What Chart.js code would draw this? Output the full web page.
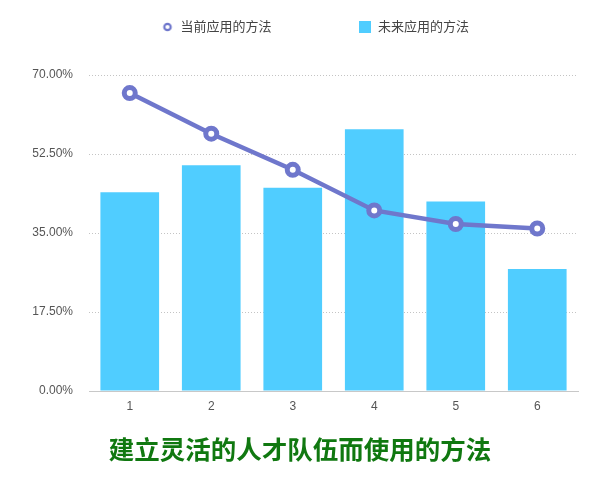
<!DOCTYPE html>
<html>
<head>
<meta charset="utf-8">
<script src="https://cdn.jsdelivr.net/npm/chart.js@4.4.0/dist/chart.umd.min.js"></script>
<style>
  html, body { margin: 0; padding: 0; background: #ffffff; }
  #wrap { width: 600px; height: 489px; }
</style>
</head>
<body>
<div id="wrap"><canvas id="c"></canvas></div>
<script>
const categories = ['1', '2', '3', '4', '5', '6'];
const currentMethods = [66, 57, 49, 40, 37, 36];
const futureMethods = [44, 50, 45, 58, 42, 27];
const yTicks = [0, 17.5, 35, 52.5, 70];
const seriesNames = ['当前应用的方法', '未来应用的方法'];
const chartTitle = '建立灵活的人才队伍而使用的方法';

const LINE_COLOR = '#6f77cc';
const BAR_COLOR = '#50cdff';
const LEGEND_GAP = 87;

// small ring icon for the line series legend entry
const ringIcon = document.createElement('canvas');
ringIcon.width = 12;
ringIcon.height = 12;
(function () {
  const g = ringIcon.getContext('2d');
  g.strokeStyle = LINE_COLOR;
  g.lineWidth = 2.2;
  g.beginPath();
  g.arc(6, 6, 3.2, 0, Math.PI * 2);
  g.stroke();
})();

const legendSpacer = {
  id: 'legendSpacer',
  beforeInit(chart) {
    const origFit = chart.legend.fit;
    chart.legend.fit = function () {
      origFit.call(this);
      this.height = 75;
    };
  },
  afterLayout(chart) {
    const lg = chart.legend;
    const dy = 27 - (LEGEND_GAP + 6.5);
    lg.top += dy;
    lg.left += 15;
    lg.right += 15;
  }
};

new Chart(document.getElementById('c'), {
  data: {
    labels: categories,
    datasets: [
      {
        type: 'line',
        label: seriesNames[0],
        data: currentMethods,
        order: 0,
        borderColor: LINE_COLOR,
        backgroundColor: '#ffffff',
        borderWidth: 4.5,
        pointRadius: 5.5,
        pointHoverRadius: 5.5,
        pointBorderWidth: 5,
        pointBackgroundColor: '#ffffff',
        pointBorderColor: LINE_COLOR,
        pointStyle: 'circle',
        tension: 0
      },
      {
        type: 'bar',
        label: seriesNames[1],
        data: futureMethods,
        order: 1,
        backgroundColor: BAR_COLOR,
        borderWidth: 0,
        pointStyle: 'rect'
      }
    ]
  },
  options: {
    responsive: true,
    maintainAspectRatio: false,
    animation: false,
    devicePixelRatio: 1,
    layout: { padding: { top: 0, left: 22, right: 22, bottom: 4 } },
    plugins: {
      legend: {
        position: 'top',
        labels: {
          usePointStyle: true,
          boxWidth: 13,
          boxHeight: 12,
          padding: LEGEND_GAP,
          color: '#444',
          font: { size: 13, family: "'Liberation Sans', 'Noto Sans CJK SC', sans-serif" },
          generateLabels(chart) {
            const items = Chart.defaults.plugins.legend.labels.generateLabels(chart);
            items.forEach(it => {
              const ds = chart.data.datasets[it.datasetIndex];
              if (ds.type === 'line') {
                it.pointStyle = ringIcon;
              } else {
                it.pointStyle = 'rect';
                it.fillStyle = BAR_COLOR;
                it.strokeStyle = BAR_COLOR;
                it.lineWidth = 0;
              }
            });
            return items;
          }
        }
      },
      title: {
        display: true,
        position: 'bottom',
        text: chartTitle,
        color: '#107810',
        font: { size: 25.5, weight: 'bold', family: "'Noto Sans CJK SC', sans-serif" },
        padding: { top: 13, bottom: 20 }
      },
      tooltip: { enabled: false }
    },
    scales: {
      x: {
        grid: { display: false, drawTicks: false },
        border: { display: true, color: '#c8c8c8', width: 1 },
        ticks: {
          color: '#555',
          padding: 8,
          font: { size: 12, family: "'Liberation Sans', sans-serif" }
        }
      },
      y: {
        min: 0,
        max: 70,
        afterFit(scale) { scale.width = 67; },
        afterBuildTicks(scale) { scale.ticks = yTicks.map(v => ({ value: v })); },
        grid: { color: '#c4c4c4', lineWidth: 1, drawTicks: false },
        border: { display: false, dash: [1, 2] },
        ticks: {
          color: '#555',
          padding: 16,
          font: { size: 12, family: "'Liberation Sans', sans-serif" },
          callback: (v) => Number(v).toFixed(2) + '%'
        }
      }
    }
  },
  plugins: [legendSpacer]
});
</script>
</body>
</html>
